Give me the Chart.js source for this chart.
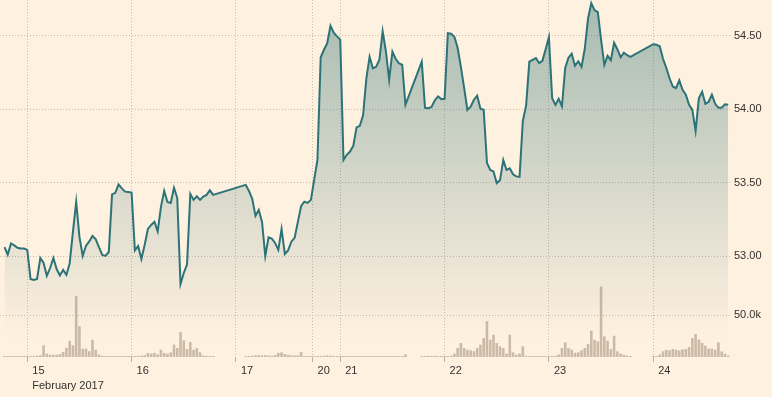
<!DOCTYPE html>
<html>
<head>
<meta charset="utf-8">
<script src="https://cdn.jsdelivr.net/npm/chart.js@4.4.1/dist/chart.umd.min.js"></script>
<style>
html,body{margin:0;padding:0;background:#fff1e0;}
canvas{display:block;}
</style>
</head>
<body>
<canvas id="c" width="772" height="397"></canvas>
<script>
// ---- tick labels / categories ----
const dayLabels = ['15','16','17','20','21','22','23','24'];
const daySlots  = [0, 32, 64, 87.5, 96, 128, 160, 192];   // 15-minute slots of trading time
const monthLabel = 'February 2017';
const firstSlot = -7;
const priceTicks = [53.00, 53.50, 54.00, 54.50];
const volumeTicks = [50];   // thousands

// ---- price series (one value per 15-min slot, null = no trades) ----
const priceFeb14 = [53.062,53.012,53.087,53.074,53.058,53.053,53.053];
const priceFeb15 = [53.043,52.845,52.838,52.845,52.988,52.954,52.866,52.920,52.988,52.913,52.869,52.907,52.873,52.951,53.166,53.370,
                    53.132,53.002,53.070,53.101,53.138,53.115,53.060,53.009,53.002,53.029,53.421,53.432,53.489,53.462,53.440,53.437];
const priceFeb16 = [53.434,53.040,53.070,52.982,53.077,53.186,53.213,53.234,53.169,53.336,53.445,53.370,53.363,53.466,53.398,52.811,
                    52.886,52.944,53.425,53.384,53.408,53.384,53.406,53.418,53.449,53.418,null,null,null,null,null,null];
const priceFeb17 = [null,null,null,53.486,53.445,53.391,53.275,53.316,53.234,53.002,53.128,53.120,53.091,53.043,53.186,53.016,
                    53.040,53.099,53.125,53.234,53.343,53.372,53.363,53.384];
const priceFeb20 = [53.520,53.656,54.355,54.406,54.451,54.570,54.522,54.497];
const priceFeb21 = [54.475,53.656,53.691,53.713,53.752,53.878,53.888,53.960,54.209,54.359,54.280,54.290,54.338,54.532,54.396,54.202,
                    54.393,54.345,54.314,54.304,54.031,null,null,null,null,54.325,54.011,54.008,54.016,54.062,54.089,54.070];
const priceFeb22 = [54.072,54.519,54.515,54.495,54.420,54.290,54.147,53.997,54.018,54.066,54.093,54.004,53.997,53.636,53.588,53.578,
                    53.498,53.517,53.656,53.588,53.599,53.558,53.544,53.541,53.922,54.025,54.325,54.338,54.350,54.316,54.331,54.410];
const priceFeb23 = [54.492,54.076,54.031,54.072,54.021,54.282,54.352,54.379,54.297,54.328,54.290,54.413,54.618,54.723,54.676,54.662,
                    54.475,54.304,54.365,54.335,54.454,54.410,54.355,54.386,54.369,54.357,null,null,null,null,null,null];
const priceFeb24 = [54.444,54.440,54.430,54.345,54.284,54.212,54.156,54.145,54.198,54.134,54.100,54.031,53.997,53.854,54.076,54.120,
                    54.038,54.052,54.100,54.038,54.011,54.011,54.035,54.031];

// ---- volume series (thousands per slot) ----
const volFeb14 = [1.2,1.2,1.2,1.2,1.2,1.2,1.2];
const volFeb15 = [1.2,1.2,1.2,1.5,2,14,4,2.8,2.6,2.6,3.5,6,11,19.5,14,73,36.7,10,10,7,20.7,8.7,2.8,1.5,1.2,1.2,1.2,1.2,1.2,1.2,1.2,1.2];
const volFeb16 = [1.2,1.2,1.5,1.5,2,4.8,4,4.8,3,8.8,4.8,4,5.6,14.8,10.8,30,20,9.6,18,8.7,10.8,5.6,1.8,1.2,1.2,1.2,null,null,null,null,null,null];
const volFeb17 = [null,null,null,1.2,1.2,1.5,2,2.2,2,2.2,1.8,1.5,2.5,5,5.6,3.5,2.5,2,1.8,2,6,1.2,1.2,1.2];
const volFeb20 = [1.2,1.2,1.2,1.5,1.8,1.5,1.2,1.2];
const volFeb21 = [1.2,1.2,1.2,1.2,1.2,1.2,1.2,1.2,1.2,1.2,1.2,1.2,1.2,1.2,1.2,1.2,1.2,1.2,1.2,1.2,3.2,null,null,null,null,1.2,1.2,1.5,1.2,1.5,1.2,1.2];
const volFeb22 = [1.2,1.2,1.5,4,10.8,16.7,10.8,8.7,8,6.8,10.8,14.7,22.7,43,20.7,26.7,16.7,12.8,10.8,4,26.7,5.6,2.8,4,12.8,1.5,1.2,1.2,1.2,1.2,1.2,1.2];
const volFeb23 = [1.2,1.2,1.5,3,10.8,17.5,10.8,8.7,5,5.6,8,10.8,15.5,31.5,20.7,18.8,84.5,24.7,19.5,9.6,25.5,6.8,4,2.8,1.6,1.2,null,null,null,null,null,null];
const volFeb24 = [1.2,1.2,3,6.8,8.5,8,9.6,8.7,7.8,9.2,9.5,12,22.7,27.5,21,17,13.5,10,10,8.7,17.5,6.8,4,1.6];

const prices = [].concat(priceFeb14,priceFeb15,priceFeb16,priceFeb17,priceFeb20,priceFeb21,priceFeb22,priceFeb23,priceFeb24);
const volumes = [].concat(volFeb14,volFeb15,volFeb16,volFeb17,volFeb20,volFeb21,volFeb22,volFeb23,volFeb24);

const pricePoints = prices.map((p, i) => ({x: firstSlot + i, y: p}));
const volumePoints = volumes.map((v, i) => ({x: firstSlot + i, y: v}));

const FONT = {family: "'Liberation Sans', Arial, sans-serif", size: 11};
const TEXT = '#33302e';
const GRID = '#c6baab';

new Chart(document.getElementById('c'), {
  type: 'line',
  data: {
    datasets: [
      {
        type: 'line',
        data: pricePoints,
        yAxisID: 'y',
        borderColor: '#2b7377',
        borderWidth: 2,
        pointRadius: 0,
        tension: 0,
        spanGaps: true,
        fill: 'start',
        order: 0,
        backgroundColor: (c) => {
          const chart = c.chart, a = chart.chartArea;
          if (!a) return 'rgba(0,0,0,0)';
          const g = chart.ctx.createLinearGradient(0, a.top, 0, a.bottom);
          g.addColorStop(0, 'rgba(44,112,114,0.42)');
          g.addColorStop(0.95, 'rgba(44,112,114,0.0)');
          return g;
        }
      },
      {
        type: 'bar',
        data: volumePoints,
        yAxisID: 'yv',
        backgroundColor: '#cbbaa6',
        barPercentage: 0.8,
        categoryPercentage: 1,
        order: 1
      }
    ]
  },
  options: {
    responsive: false,
    devicePixelRatio: 1,
    animation: false,
    layout: {padding: 0},
    plugins: {legend: {display: false}, tooltip: {enabled: false}},
    scales: {
      x: {
        type: 'linear',
        min: -8.37,
        max: 215.55,
        offset: false,
        afterBuildTicks: s => { s.ticks = daySlots.map(v => ({value: v})); },
        ticks: {
          autoSkip: false, maxRotation: 0, minRotation: 0,
          align: 'start', labelOffset: 5, padding: 1,
          color: TEXT,
          font: Object.assign({}, FONT, {lineHeight: '15px'}),
          callback: (v, i) => i === 0 ? [dayLabels[0], monthLabel] : dayLabels[i]
        },
        grid: {color: GRID, drawTicks: true, tickLength: 5, tickColor: '#bcb0a2', tickBorderDash: [], offset: false},
        border: {display: false, dash: [1, 2]},
        afterFit: s => { s.height = 40; s.paddingLeft = 0; s.paddingRight = 0; }
      },
      y: {
        type: 'linear',
        position: 'right',
        weight: 1,
        min: 52.314,
        max: 54.745,
        afterBuildTicks: s => { s.ticks = priceTicks.map(v => ({value: v})); },
        ticks: {padding: 4, color: TEXT, font: FONT, callback: v => v.toFixed(2)},
        grid: {color: GRID, drawTicks: false},
        border: {display: false, dash: [1, 2]},
        afterFit: s => { s.width = 42; s.paddingTop = 0; s.paddingBottom = 0; }
      },
      yv: {
        type: 'linear',
        position: 'right',
        weight: 0,
        min: 0,
        max: 428,
        afterBuildTicks: s => { s.ticks = volumeTicks.map(v => ({value: v})); },
        ticks: {padding: 4, color: TEXT, font: FONT, callback: v => v.toFixed(1) + 'k'},
        grid: {color: GRID, drawTicks: false},
        border: {display: false, dash: [1, 2]},
        afterFit: s => {
          s.width = 0; s.paddingTop = 0; s.paddingBottom = 0;
          // the zero-width axis shares the price axis column; let its label draw there
          s._computeLabelArea = () => undefined;
        }
      }
    }
  }
});
</script>
</body>
</html>
